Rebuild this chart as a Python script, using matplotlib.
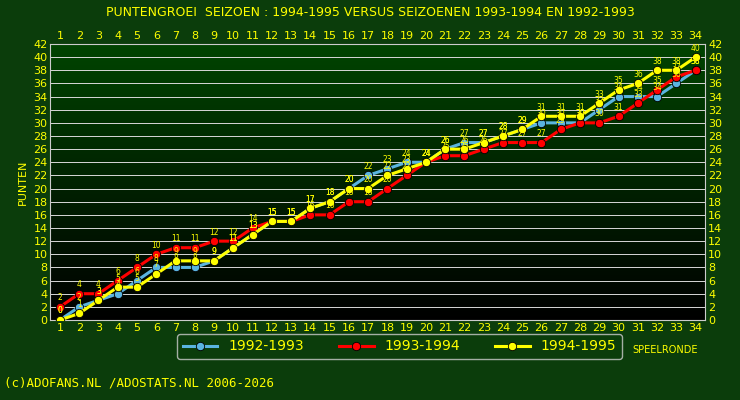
import matplotlib
matplotlib.use("Agg")
import matplotlib.pyplot as plt
import numpy as np
from matplotlib.colors import LinearSegmentedColormap

rounds = list(range(1, 35))
s9293 = [0, 2, 3, 4, 6, 8, 8, 8, 9, 11, 13, 15, 15, 17, 18, 20, 22, 23, 24, 24,
         26, 27, 27, 28, 29, 30, 30, 30, 32, 34, 34, 34, 36, 38]
s9394 = [2, 4, 4, 6, 8, 10, 11, 11, 12, 12, 14, 15, 15, 16, 16, 18, 18, 20, 22, 24,
         25, 25, 26, 27, 27, 27, 29, 30, 30, 31, 33, 35, 37, 38]
s9495 = [0, 1, 3, 5, 5, 7, 9, 9, 9, 11, 13, 15, 15, 17, 18, 20, 20, 22, 23, 24,
         26, 26, 27, 28, 29, 31, 31, 31, 33, 35, 36, 38, 38, 40]

series = [("1992-1993", s9293, "#5ab4e0"),
          ("1993-1994", s9394, "#ff0000"),
          ("1994-1995", s9495, "#ffff00")]

fig = plt.figure(figsize=(7.4, 4.0), dpi=100)
fig.patch.set_facecolor("#0b3d0b")
ax = fig.add_axes([0.068, 0.2, 0.885, 0.69])

cmap = LinearSegmentedColormap.from_list("bg", ["#000000", "#004400"])
grad = np.linspace(0, 1, 256).reshape(-1, 1)
ax.imshow(grad, cmap=cmap, origin="lower", aspect="auto",
          extent=[0.5, 34.5, 0, 42], zorder=0)

for y in range(2, 43, 2):
    ax.axhline(y, color="#d8d8d8", lw=0.7, zorder=1)

for name, vals, col in series:
    ax.plot(rounds, vals, color=col, lw=2.2, marker="o", ms=6,
            mfc=col, mec="black", mew=0.6, label=name, zorder=3)
    for r, v in zip(rounds, vals):
        ax.text(r, v + 0.7, str(v), color="#ffff00", fontsize=5.5,
                ha="center", va="bottom", zorder=4)

ax.set_xlim(0.5, 34.5)
ax.set_ylim(0, 42)
ax.set_xticks(rounds)
ax.set_yticks(range(0, 43, 2))
ax.tick_params(colors="#ffff00", labelsize=8, length=0,
               top=True, labeltop=True, right=True, labelright=True, pad=2)
for sp in ax.spines.values():
    sp.set_color("#cccccc")
ax.set_ylabel("PUNTEN", color="#ffff00", fontsize=8)

fig.text(0.5, 0.97, "PUNTENGROEI  SEIZOEN : 1994-1995 VERSUS SEIZOENEN 1993-1994 EN 1992-1993",
         color="#ffff00", fontsize=9, ha="center", va="center")
leg = fig.legend(loc="lower left", bbox_to_anchor=(0.23, 0.085), ncol=3,
                 frameon=True, fontsize=10, handlelength=2.5, columnspacing=2.5)
leg.get_frame().set_facecolor("#0b3d0b")
leg.get_frame().set_edgecolor("#cccccc")
for t in leg.get_texts():
    t.set_color("#ffff00")
fig.text(0.855, 0.118, "SPEELRONDE", color="#ffff00", fontsize=7)
fig.text(0.005, 0.035, "(c)ADOFANS.NL /ADOSTATS.NL 2006-2026", color="#ffff00",
         fontsize=9, family="DejaVu Sans Mono")

fig.savefig("out.png", dpi=100, facecolor=fig.get_facecolor())
